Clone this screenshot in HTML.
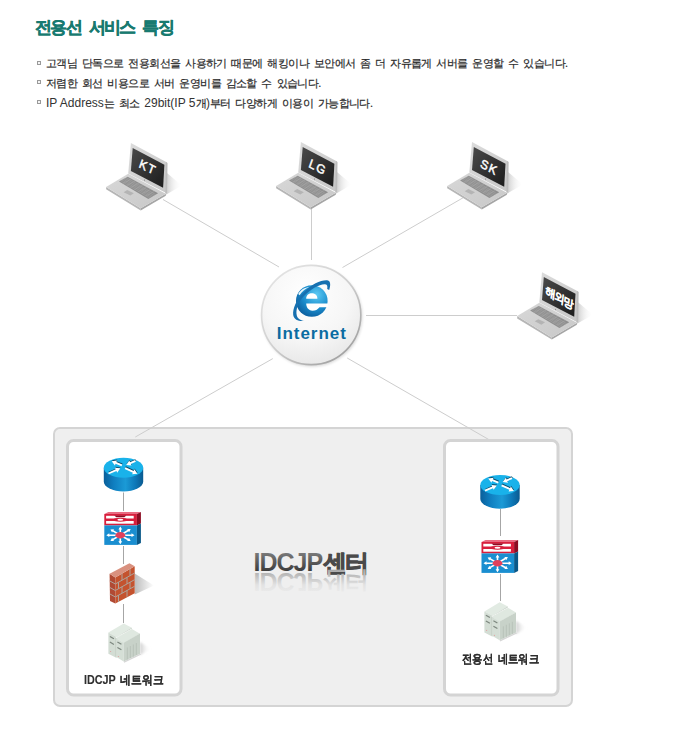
<!DOCTYPE html>
<html><head><meta charset="utf-8">
<style>
html,body{margin:0;padding:0;background:#fff;width:680px;height:730px;overflow:hidden;position:relative;font-family:"Liberation Sans",sans-serif;}
h1{position:absolute;left:35px;top:17.5px;margin:0;font-size:17px;letter-spacing:-1.65px;word-spacing:4.5px;font-weight:bold;color:#187a70;-webkit-text-stroke:0.45px #187a70;white-space:nowrap;line-height:20px;}
.li{position:absolute;left:46px;font-size:11px;color:#2a2a2a;white-space:nowrap;line-height:14px;letter-spacing:-0.56px;word-spacing:2.1px;-webkit-text-stroke:0.2px #2a2a2a;}
.en{font-size:12px;letter-spacing:0;word-spacing:0;-webkit-text-stroke:0;color:#333;}
.bul{position:absolute;left:37px;width:2px;height:2px;border:1px solid #9a9a9a;background:#f4f4f4;}
svg{position:absolute;left:0;top:0;}
.lbl{position:absolute;font-size:12px;font-weight:bold;color:#2e2e2e;white-space:nowrap;line-height:14px;word-spacing:2px;-webkit-text-stroke:0.1px #2e2e2e;transform-origin:0 0;}

</style></head><body>
<h1>전용선 서비스 특징</h1>
<div class="bul" style="top:60.5px"></div><div class="li" style="top:56px">고객님 단독으로 전용회선을 사용하기 때문에 해킹이나 보안에서 좀 더 자유롭게 서버를 운영할 수 있습니다.</div>
<div class="bul" style="top:80px"></div><div class="li" style="top:76px">저렴한 회선 비용으로 서버 운영비를 감소할 수 있습니다.</div>
<div class="bul" style="top:100px"></div><div class="li" style="top:96px"><span class="en">IP Address</span>는 최소 <span class="en">29bit(IP 5</span>개<span class="en">)</span>부터 다양하게 이용이 가능합니다.</div>

<svg width="680" height="730" viewBox="0 0 680 730">
<defs>
  <linearGradient id="scr" x1="0" y1="0" x2="1" y2="1">
    <stop offset="0" stop-color="#4a4a4a"/><stop offset="1" stop-color="#1c1c1c"/>
  </linearGradient>
  <linearGradient id="lsh" x1="0" y1="0" x2="1" y2="0">
    <stop offset="0" stop-color="#c8c8c8"/><stop offset="1" stop-color="#ffffff" stop-opacity="0"/>
  </linearGradient>
  <linearGradient id="ssh" x1="0" y1="0" x2="1" y2="0">
    <stop offset="0" stop-color="#cdcdcd"/><stop offset="1" stop-color="#ffffff" stop-opacity="0"/>
  </linearGradient>
  <linearGradient id="lid" x1="0" y1="0" x2="1" y2="1">
    <stop offset="0" stop-color="#dcdcdc"/><stop offset="1" stop-color="#c6c6c6"/>
  </linearGradient>
  <linearGradient id="base" x1="0" y1="0" x2="1" y2="1">
    <stop offset="0" stop-color="#d8d8d8"/><stop offset="1" stop-color="#c8c8c8"/>
  </linearGradient>
  <linearGradient id="rside" x1="0" y1="0" x2="1" y2="0">
    <stop offset="0" stop-color="#0a5f9a"/><stop offset="0.25" stop-color="#0f7ec0"/><stop offset="0.55" stop-color="#1b9ad6"/><stop offset="0.8" stop-color="#0d78b8"/><stop offset="1" stop-color="#0a5a90"/>
  </linearGradient>
  <radialGradient id="circ" cx="0.45" cy="0.3" r="0.75">
    <stop offset="0" stop-color="#ffffff"/><stop offset="0.6" stop-color="#f6f6f6"/><stop offset="1" stop-color="#e6e6e6"/>
  </radialGradient>
  <linearGradient id="txtg" x1="0" y1="0" x2="0" y2="1">
    <stop offset="0" stop-color="#8a8a8a"/><stop offset="1" stop-color="#2c2c2c"/>
  </linearGradient>
  <linearGradient id="refl" x1="0" y1="0" x2="0" y2="1">
    <stop offset="0" stop-color="#efefef"/><stop offset="0.4" stop-color="#e2e2e2"/><stop offset="1" stop-color="#a0a0a0"/>
  </linearGradient>
  <radialGradient id="ieg" cx="0.65" cy="0.3" r="0.8">
    <stop offset="0" stop-color="#5ccaf4"/><stop offset="0.55" stop-color="#1a8ccc"/><stop offset="1" stop-color="#0a5898"/>
  </radialGradient>
  <linearGradient id="cstroke" x1="0.15" y1="0.1" x2="0.85" y2="0.9"><stop offset="0" stop-color="#e2e2e2"/><stop offset="0.5" stop-color="#cfcfcf"/><stop offset="1" stop-color="#a2a2a2"/></linearGradient>
  <linearGradient id="fsh" x1="0" y1="0" x2="1" y2="0"><stop offset="0" stop-color="#bcbcbc"/><stop offset="1" stop-color="#ffffff"/></linearGradient>
  <filter id="blur0" x="-50%" y="-50%" width="200%" height="200%"><feGaussianBlur stdDeviation="0.8"/></filter>
  <filter id="blur1" x="-20%" y="-20%" width="140%" height="140%"><feGaussianBlur stdDeviation="1.5"/></filter>
  <filter id="blur2" x="-50%" y="-50%" width="200%" height="200%"><feGaussianBlur stdDeviation="2"/></filter>

  <g id="laptop">
    <polygon points="36,30 51,42.5 34.5,51.8" fill="url(#lsh)"/>
    <polygon points="-24.8,43.9 9.8,65.2 9.8,67.4 -24.8,46.2" fill="#b6b6b6"/>
    <polygon points="9.8,65.2 34.9,50.6 34.9,52.6 9.8,67.4" fill="#a6a6a6"/>
    <polygon points="-24.8,43.9 -2.7,30.6 34.9,50.6 9.8,65.2" fill="url(#base)"/>
    <polygon points="0,0 36.2,19.4 35.8,50.2 -2.7,30.4" fill="url(#lid)"/>
    <polygon points="34.9,18.9 36.6,19.8 36.2,50.4 34.5,49.6" fill="#bdbdbd"/>
    <polygon points="1.8,4.8 33.5,21.6 32.2,44.6 0,27.8" fill="url(#scr)"/>
    <polygon points="-11.9,38.3 -3.2,33.7 27.2,50.1 17.4,55.8" fill="#8e8e8e"/>
    <g stroke="#adadad" stroke-width="0.45">
      <line x1="-10.5" y1="37.55" x2="18.9" y2="54.9"/>
      <line x1="-9.05" y1="36.75" x2="20.4" y2="54.1"/>
      <line x1="-7.6" y1="36" x2="21.8" y2="53.3"/>
      <line x1="-6.15" y1="35.2" x2="23.3" y2="52.4"/>
      <line x1="-4.7" y1="34.45" x2="24.8" y2="51.5"/>
      <line x1="-8.1" y1="40.4" x2="0.6" y2="35.8"/>
      <line x1="-4.3" y1="42.4" x2="4.4" y2="37.8"/>
      <line x1="-0.5" y1="44.5" x2="8.2" y2="39.9"/>
      <line x1="3.3" y1="46.6" x2="12" y2="42"/>
      <line x1="7.1" y1="48.7" x2="15.8" y2="44.1"/>
      <line x1="10.9" y1="50.8" x2="19.6" y2="46.2"/>
      <line x1="14.7" y1="52.9" x2="23.4" y2="48.3"/>
    </g>
    <polygon points="-7.3,49.1 -3.7,47 3,50.1 -0.6,52.5" fill="#b4b4b4"/>
    <circle cx="13.6" cy="37" r="0.5" fill="#666"/>
  </g>

  <g id="router">
    <path d="M-19.7,0 L-19.7,13.7 A19.7,10 0 0 0 19.7,13.7 L19.7,0 Z" fill="url(#rside)"/>
    <ellipse cx="0" cy="0" rx="19.7" ry="10" fill="#19b2ea"/>
    <g fill="#0a2a40" opacity="0.75" transform="translate(0.3,-0.9)">
<polygon points="-1.24,-3.28 -7.18,-5.73 -6.52,-7.35 -11.80,-6.60 -8.57,-2.35 -7.91,-3.97 -1.96,-1.52"/>
<polygon points="11.62,-7.77 6.55,-5.59 5.86,-7.20 2.70,-2.90 7.99,-2.24 7.30,-3.84 12.38,-6.03"/>
<polygon points="-14.62,6.57 -7.03,3.22 -6.32,4.83 -3.20,0.50 -8.50,-0.12 -7.79,1.49 -15.38,4.83"/>
<polygon points="1.21,1.16 9.32,4.86 8.59,6.45 13.90,5.90 10.83,1.54 10.11,3.13 1.99,-0.56"/>
    </g>
    <g fill="#fff">
<polygon points="-1.24,-3.28 -7.18,-5.73 -6.52,-7.35 -11.80,-6.60 -8.57,-2.35 -7.91,-3.97 -1.96,-1.52"/>
<polygon points="11.62,-7.77 6.55,-5.59 5.86,-7.20 2.70,-2.90 7.99,-2.24 7.30,-3.84 12.38,-6.03"/>
<polygon points="-14.62,6.57 -7.03,3.22 -6.32,4.83 -3.20,0.50 -8.50,-0.12 -7.79,1.49 -15.38,4.83"/>
<polygon points="1.21,1.16 9.32,4.86 8.59,6.45 13.90,5.90 10.83,1.54 10.11,3.13 1.99,-0.56"/>
    </g>
  </g>

  <g id="switch">
    <polygon points="0,0 4,-2 36.6,-2 32.6,0" fill="#e86a80"/>
    <rect x="0" y="0" width="32.6" height="11.4" fill="#d81e3c"/>
    <polygon points="32.6,0 36.6,-2 36.6,9.4 32.6,11.4" fill="#8c0c22"/>
    <rect x="0" y="11.4" width="32.6" height="19.5" fill="#1a8ed0"/>
    <polygon points="32.6,11.4 36.6,9.4 36.6,28.9 32.6,30.9" fill="#0a5888"/>
    <rect x="1.8" y="1.8" width="27.6" height="2.7" fill="#fff"/>
    <rect x="1.8" y="7" width="27.6" height="2.7" fill="#fff"/>
    <polygon points="10,1.6 22,1.6 20,3.2 12,3.2" fill="#8c0c22"/>
    <path d="M10,4.5 Q16,3 22,4.5 L22,7 Q16,8.5 10,7 Z" fill="#d81e3c"/>
    <ellipse cx="16" cy="5.75" rx="3" ry="1" fill="#fff"/>
    <g fill="#fff">
<polygon points="16.41,20.51 9.14,16.23 9.70,15.28 6.15,15.40 7.77,18.56 8.33,17.61 15.59,21.89"/>
<polygon points="16.41,21.89 24.23,17.22 24.80,18.17 26.40,15.00 22.85,14.90 23.41,15.85 15.59,20.51"/>
<polygon points="15.60,20.51 8.35,24.70 7.79,23.75 6.15,26.90 9.70,27.04 9.15,26.09 16.40,21.89"/>
<polygon points="15.62,21.90 23.38,26.16 22.86,27.12 26.40,26.90 24.68,23.79 24.15,24.76 16.38,20.50"/>
<polygon points="16.00,20.40 5.00,20.40 5.00,19.30 2.00,21.20 5.00,23.10 5.00,22.00 16.00,22.00"/>
<polygon points="16.00,22.00 27.20,22.00 27.20,23.10 30.20,21.20 27.20,19.30 27.20,20.40 16.00,20.40"/>
<polygon points="16.80,21.20 16.80,15.60 17.90,15.60 16.00,12.60 14.10,15.60 15.20,15.60 15.20,21.20"/>
<polygon points="15.20,21.20 15.20,27.20 14.10,27.20 16.00,30.20 17.90,27.20 16.80,27.20 16.80,21.20"/>
    </g>
    <ellipse cx="16" cy="21.2" rx="4.9" ry="3.2" fill="#e0405c"/>
  </g>

  <g id="server">
    <polygon points="31.6,18.5 42.5,25.5 31.6,31.6" fill="url(#ssh)" filter="url(#blur0)"/>
    <polygon points="15.3,37.9 31.6,30.2 33,31 15.8,39.2" fill="#d6d6d6"/>
    <polygon points="0,9.1 15.3,0 23.5,4.3 8.2,13.4" fill="#e2ebe3"/>
    <polygon points="0,9.1 8.2,13.4 8.2,34.5 0,30.2" fill="#d3ddd4"/>
    <polygon points="8.2,13.4 23.5,4.3 23.5,6.3 8.2,15.4" fill="#b8c2b9"/>
    <polygon points="7.2,14.6 23.5,5.5 31.6,10.3 15.3,19.4" fill="#dfe8e0"/>
    <line x1="7.2" y1="14.4" x2="23.5" y2="5.3" stroke="#f4f8f4" stroke-width="0.9"/>
    <polygon points="7.2,14.4 15.3,19.2 15.3,37.9 7.2,33.1" fill="#d5dfd6"/>
    <polygon points="15.3,19.2 31.6,10.1 31.6,30.2 15.3,37.9" fill="#c8d2c9"/>
    <line x1="7.2" y1="14.4" x2="7.2" y2="33.1" stroke="#bfc9c0" stroke-width="0.6"/>
    <g stroke="#b6c0b7" stroke-width="0.8">
      <line x1="19" y1="24" x2="19" y2="36"/><line x1="22" y1="22.5" x2="22" y2="34.5"/><line x1="25" y1="21" x2="25" y2="33"/><line x1="28" y1="19.5" x2="28" y2="31.5"/>
    </g>
    <g stroke="#7d877f" stroke-width="1.2">
      <line x1="1.5" y1="13" x2="5.5" y2="15.3"/><line x1="1.5" y1="18.6" x2="5.5" y2="20.9"/>
      <line x1="9" y1="18.5" x2="13" y2="20.8"/><line x1="9" y1="24" x2="13" y2="26.3"/>
    </g>
    <circle cx="2.2" cy="28" r="0.6" fill="#e0a0a0"/><circle cx="10" cy="33" r="0.6" fill="#e0a0a0"/>
  </g>
</defs>

<!-- lines -->
<g stroke="#cdcdcd" stroke-width="1" fill="none">
  <line x1="163" y1="199.5" x2="279" y2="267"/>
  <line x1="311.5" y1="207" x2="311.5" y2="260"/>
  <line x1="463.5" y1="197.5" x2="342.5" y2="267.5"/>
  <line x1="366" y1="315.5" x2="517" y2="315.5"/>
</g>

<!-- laptops -->
<use href="#laptop" transform="translate(130.9,143.1)"/>
<use href="#laptop" transform="translate(300.9,142.1)"/>
<use href="#laptop" transform="translate(472,142.1)"/>
<use href="#laptop" transform="translate(542,272.2)"/>
<g fill="#fff" font-family="Liberation Sans" text-anchor="middle" font-size="12.2" letter-spacing="1.3" stroke="#fff" stroke-width="0.45">
  <text transform="matrix(0.883,0.469,-0.342,0.94,146.4,171.2)">KT</text>
  <text transform="matrix(0.883,0.469,-0.342,0.94,316.4,171.2)">LG</text>
  <text transform="matrix(0.883,0.469,-0.342,0.94,487.8,171.2)">SK</text>
  <text transform="matrix(0.883,0.469,-0.12,0.99,558.9,301.3)" font-size="11.5" letter-spacing="-0.9" stroke-width="0.75">해외망</text>
</g>

<!-- big box -->
<rect x="54" y="428" width="518" height="278" rx="6" fill="#efefef" stroke="#d4d4d4" stroke-width="2"/>
<g stroke="#cdcdcd" stroke-width="1">
  <line x1="272.8" y1="358.6" x2="135.3" y2="437"/>
  <line x1="347.2" y1="358" x2="490.6" y2="440.6"/>
</g>
<rect x="67.5" y="440.5" width="113.5" height="254.5" rx="6" fill="#fff" stroke="#d4d4d4" stroke-width="3"/>
<rect x="444.5" y="440.5" width="113.5" height="254.5" rx="6" fill="#fff" stroke="#d4d4d4" stroke-width="3"/>

<!-- internet circle -->
<circle cx="312.2" cy="316.5" r="50" fill="#000" opacity="0.16" filter="url(#blur1)"/>
<circle cx="311.2" cy="315" r="49.6" fill="url(#circ)" stroke="url(#cstroke)" stroke-width="1.6"/>
<!-- IE logo -->
<g>
  <circle cx="311.8" cy="301" r="15.8" fill="url(#ieg)"/>
  <path d="M306.2,298.8 C306.2,294.5 309,293.2 311.8,293.2 C314.6,293.2 317.4,294.5 317.4,298.8 Z" fill="#fff"/>
  <path d="M306.2,303.6 C306.4,307.5 308.3,310.6 312.5,310.8 C315.5,310.8 317.5,309.6 319.5,307.2 L328,307.2 L328,303.6 Z" fill="#fff"/>
  <path d="M298.2,294 C300.5,289.8 304.8,287.4 309.5,287 C305,289 301.8,291.5 299.6,295.2 Z" fill="#e8f6fc"/>
  <path d="M304,321 C299,321.5 294,320 293.2,315 C292.5,309 296,300 304,292 C312,284 322,279.5 328,280.5 C331,281.5 330.5,286 329.2,290 L327.2,289 C327.8,286 327.2,284.2 324.5,284.3 C319,284.5 311,289 304,296 C298,302 295.5,310 296.8,315.5 C297.8,319 300.5,320.2 304,321 Z" fill="#1670b0"/>
</g>
<text x="311.8" y="339" font-family="Liberation Sans" font-weight="bold" font-size="17" fill="#0b6ca2" text-anchor="middle" letter-spacing="0.95">Internet</text>

<!-- center title -->
<g font-family="Liberation Sans" font-weight="bold" font-size="25">
  <text x="253.5" y="571" fill="url(#txtg)"><tspan letter-spacing="-1">IDCJP</tspan><tspan dx="1" font-size="24" letter-spacing="-1.8" stroke="#4a4a4a" stroke-width="0.85">센터</tspan></text>
  <g transform="translate(0,1144) scale(1,-1)">
    <text x="253.5" y="571" fill="url(#refl)"><tspan letter-spacing="-1">IDCJP</tspan><tspan dx="1" font-size="24" letter-spacing="-1.8">센터</tspan></text>
  </g>
</g>

<!-- network lines -->
<g stroke="#a6a6a6" stroke-width="1">
  <line x1="123.5" y1="492.5" x2="123.5" y2="511"/>
  <line x1="123.5" y1="546" x2="123.5" y2="564"/>
  <line x1="123.5" y1="604" x2="123.5" y2="623"/>
  <line x1="500.5" y1="509" x2="500.5" y2="536"/>
  <line x1="500.5" y1="574" x2="500.5" y2="601"/>
</g>
<use href="#router" transform="translate(123.5,467.8)"/>
<use href="#switch" transform="translate(104.3,514)"/>
<g>
  <polygon points="134.7,573.5 154,585.5 134.7,594.5" fill="url(#fsh)"/>
  <polygon points="109.6,573.8 115.3,577.4 115.3,603.5 110,601" fill="#b04a34"/>
  <polygon points="115.3,577.4 134.7,566.3 134.7,593.2 115.3,603.5" fill="#c4532f"/>
  <polygon points="109.6,573.8 129.4,563.2 134.7,566.3 115.3,577.4" fill="#d9917f"/>
  <g stroke="#aea49c" stroke-width="1">
    <line x1="115.3" y1="584" x2="134.7" y2="573"/>
    <line x1="115.3" y1="590.5" x2="134.7" y2="579.6"/>
    <line x1="115.3" y1="597" x2="134.7" y2="586.2"/>
    <line x1="122" y1="573.6" x2="122" y2="580.2"/><line x1="130" y1="569" x2="130" y2="575.6"/>
    <line x1="118.5" y1="582.2" x2="118.5" y2="588.7"/><line x1="127" y1="577.4" x2="127" y2="583.9"/>
    <line x1="122" y1="586.7" x2="122" y2="593.2"/><line x1="130" y1="582.2" x2="130" y2="588.7"/>
    <line x1="118.5" y1="595.2" x2="118.5" y2="601.7"/><line x1="127" y1="590.3" x2="127" y2="596.8"/>
    <line x1="109.8" y1="581" x2="115.3" y2="584"/><line x1="109.9" y1="587.5" x2="115.3" y2="590.5"/><line x1="110" y1="594" x2="115.3" y2="597"/>
  </g>
</g>
<use href="#server" transform="translate(108.4,623.5)"/>

<use href="#router" transform="translate(500,485)"/>
<use href="#switch" transform="translate(481.5,542)"/>
<use href="#server" transform="translate(484.4,602.3)"/>
</svg>

<div class="lbl" style="left:84px;top:673px;transform:scaleX(0.9)">IDCJP 네트워크</div>
<div class="lbl" style="left:462px;top:652px;transform:scaleX(0.86)">전용선 네트워크</div>
</body></html>
